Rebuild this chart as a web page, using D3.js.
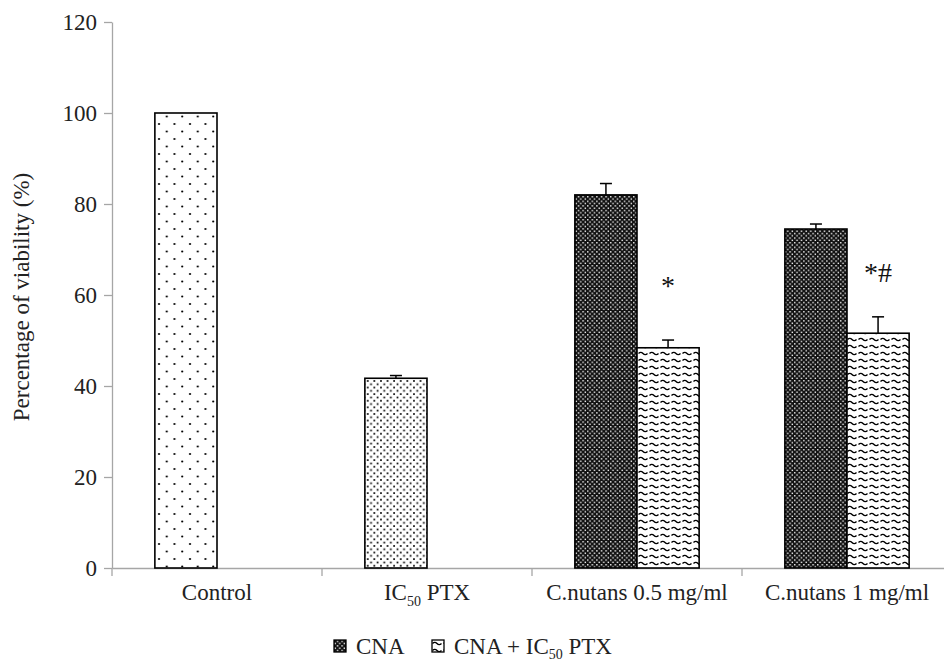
<!DOCTYPE html>
<html>
<head>
<meta charset="utf-8">
<script src="https://cdn.jsdelivr.net/npm/d3@7"></script>
<style>
  body { margin: 0; background: #fff; }
  svg { display: block; font-family: "Liberation Serif", "Times New Roman", serif; }
</style>
</head>
<body>
<svg id="chart" width="944" height="663"></svg>
<script>
// categories and series
let categories = ["Control", "IC50 PTX", "C.nutans 0.5 mg/ml", "C.nutans 1 mg/ml"];
let series = ["CNA", "CNA + IC50 PTX"];

// bar values (null = no bar)
let cnaValues   = [100, 41.7, 82.0, 74.5];
let cnaErrors   = [0, 0.6, 2.5, 1.1];
let comboValues = [null, null, 48.4, 51.6];
let comboErrors = [null, null, 1.7, 3.6];

// fill pattern of the first slot in each category
let firstPatterns = ["dotsSparse", "dotsDense", "checker", "checker"];

let yTicks = [0, 20, 40, 60, 80, 100, 120];

// significance marks
let marks = [
  { cat: "C.nutans 0.5 mg/ml", text: "*", yv: 61.5 },
  { cat: "C.nutans 1 mg/ml", text: "*#", yv: 64.3 }
];

let minx = 112, maxx = 952;
let miny = 22, maxy = 568;
let fontSize = "23px";
let subSize = "14px";

let svg = d3.select("#chart");
let defs = svg.append("defs");

// patterns
let p = defs.append("pattern").attr("id", "dotsSparse")
  .attr("patternUnits", "userSpaceOnUse").attr("width", 15.5).attr("height", 15);
p.append("rect").attr("width", 15.5).attr("height", 15).attr("fill", "#fff");
p.append("circle").attr("cx", 4).attr("cy", 4).attr("r", 1.1).attr("fill", "#000");
p.append("circle").attr("cx", 11.75).attr("cy", 11.5).attr("r", 1.1).attr("fill", "#000");

p = defs.append("pattern").attr("id", "dotsDense")
  .attr("patternUnits", "userSpaceOnUse").attr("width", 6.6).attr("height", 6.6);
p.append("rect").attr("width", 6.6).attr("height", 6.6).attr("fill", "#fff");
p.append("rect").attr("x", 0.6).attr("y", 0.6).attr("width", 1.7).attr("height", 1.7).attr("fill", "#000");
p.append("rect").attr("x", 3.9).attr("y", 3.9).attr("width", 1.7).attr("height", 1.7).attr("fill", "#000");

p = defs.append("pattern").attr("id", "checker")
  .attr("patternUnits", "userSpaceOnUse").attr("width", 4.6).attr("height", 4.6);
p.append("rect").attr("width", 4.6).attr("height", 4.6).attr("fill", "#111");
p.append("rect").attr("x", 0.5).attr("y", 0.5).attr("width", 1.4).attr("height", 1.4).attr("fill", "#fff");
p.append("rect").attr("x", 2.8).attr("y", 2.8).attr("width", 1.4).attr("height", 1.4).attr("fill", "#fff");

p = defs.append("pattern").attr("id", "wave")
  .attr("patternUnits", "userSpaceOnUse").attr("width", 11).attr("height", 7);
p.append("rect").attr("width", 11).attr("height", 7).attr("fill", "#fff");
p.append("path").attr("d", "M0.5,3.5 Q2.75,1.2 5,3.5 T9.5,3.5")
  .attr("fill", "none").attr("stroke", "#000").attr("stroke-width", 1.4);

// scales
let x0 = d3.scaleBand().domain(categories).range([minx, maxx]).padding(0);
let x1 = d3.scaleBand().domain(series).range([0, x0.bandwidth()])
  .paddingInner(0).paddingOuter(0.69);
let y = d3.scaleLinear().domain([0, 120]).range([maxy, miny]);

let axisColor = "#a6a6a6";

// y axis
let yAxis = d3.axisLeft(y).tickValues(yTicks).tickSize(8).tickSizeOuter(0).tickPadding(7);
let gy = svg.append("g").attr("transform", `translate(${minx},0)`).call(yAxis);
gy.select(".domain").attr("stroke", axisColor).attr("stroke-width", 1.3);
gy.selectAll(".tick line").attr("stroke", axisColor).attr("stroke-width", 1.3);
gy.selectAll(".tick text").attr("fill", "#222").style("font-family", "Liberation Serif")
  .style("font-size", fontSize);

// x axis
let xAxis = d3.axisBottom(x0).tickSize(0).tickSizeOuter(0).tickFormat("");
let gx = svg.append("g").attr("transform", `translate(0,${maxy})`).call(xAxis);
gx.select(".domain").attr("stroke", axisColor).attr("stroke-width", 1.3);
gx.selectAll(".cattick").data(categories).enter().append("line")
  .attr("x1", d => x0(d)).attr("x2", d => x0(d))
  .attr("y1", 0).attr("y2", 8)
  .attr("stroke", axisColor).attr("stroke-width", 1.3);

// category labels with subscript
let labels = svg.append("g").selectAll("text").data(categories).enter().append("text")
  .attr("x", d => x0(d) + x0.bandwidth() / 2)
  .attr("y", maxy + 32)
  .attr("text-anchor", "middle")
  .attr("fill", "#222")
  .style("font-size", fontSize);
labels.each(function(d) {
  let t = d3.select(this);
  if (d.indexOf("IC50") == 0) {
    t.append("tspan").text("IC");
    t.append("tspan").attr("dy", 6).style("font-size", subSize).text("50");
    t.append("tspan").attr("dy", -6).text(" PTX");
  } else {
    t.text(d);
  }
});

// bars
let bars = [];
categories.forEach((c, i) => {
  bars.push({ cat: c, s: series[0], v: cnaValues[i], e: cnaErrors[i], fill: firstPatterns[i] });
  if (comboValues[i] != null) {
    bars.push({ cat: c, s: series[1], v: comboValues[i], e: comboErrors[i], fill: "wave" });
  }
});

svg.append("g").selectAll("rect").data(bars).enter().append("rect")
  .attr("x", d => x0(d.cat) + x1(d.s))
  .attr("y", d => y(d.v))
  .attr("width", x1.bandwidth())
  .attr("height", d => y(0) - y(d.v))
  .attr("fill", d => `url(#${d.fill})`)
  .attr("stroke", "#000")
  .attr("stroke-width", 1.6);

// error bars (upper half)
let eb = svg.append("g").selectAll("g").data(bars.filter(d => d.e > 0)).enter().append("g")
  .attr("stroke", "#000").attr("stroke-width", 1.5);
eb.append("line")
  .attr("x1", d => x0(d.cat) + x1(d.s) + x1.bandwidth() / 2)
  .attr("x2", d => x0(d.cat) + x1(d.s) + x1.bandwidth() / 2)
  .attr("y1", d => y(d.v)).attr("y2", d => y(d.v + d.e));
eb.append("line")
  .attr("x1", d => x0(d.cat) + x1(d.s) + x1.bandwidth() / 2 - 6)
  .attr("x2", d => x0(d.cat) + x1(d.s) + x1.bandwidth() / 2 + 6)
  .attr("y1", d => y(d.v + d.e)).attr("y2", d => y(d.v + d.e));

// significance marks
svg.append("g").selectAll("text").data(marks).enter().append("text")
  .attr("x", d => x0(d.cat) + x1(series[1]) + x1.bandwidth() / 2)
  .attr("y", d => y(d.yv))
  .attr("text-anchor", "middle")
  .attr("dominant-baseline", "middle")
  .attr("fill", "#111")
  .style("font-size", "28px")
  .text(d => d.text);

// y label
svg.append("text")
  .attr("transform", `translate(29, ${(miny + maxy) / 2 + 2}) rotate(-90)`)
  .attr("text-anchor", "middle")
  .attr("fill", "#222")
  .style("font-size", fontSize)
  .text("Percentage of viability (%)");

// legend
let legend = svg.append("g").attr("transform", "translate(334, 647)");
let items = [
  { s: series[0], fill: "checker", x: 0 },
  { s: series[1], fill: "wave", x: 98 }
];
let li = legend.selectAll("g").data(items).enter().append("g")
  .attr("transform", d => `translate(${d.x},0)`);
li.append("rect")
  .attr("x", 0).attr("y", -7).attr("width", 12).attr("height", 12)
  .attr("fill", d => `url(#${d.fill})`).attr("stroke", "#000").attr("stroke-width", 1.3);
let lt = li.append("text").attr("x", 22).attr("y", 7).attr("fill", "#222").style("font-size", fontSize);
lt.each(function(d) {
  let t = d3.select(this);
  if (d.s.indexOf("IC50") > 0) {
    t.append("tspan").text("CNA + IC");
    t.append("tspan").attr("dy", 5).style("font-size", subSize).text("50");
    t.append("tspan").attr("dy", -5).text(" PTX");
  } else {
    t.text(d.s);
  }
});
</script>
</body>
</html>
